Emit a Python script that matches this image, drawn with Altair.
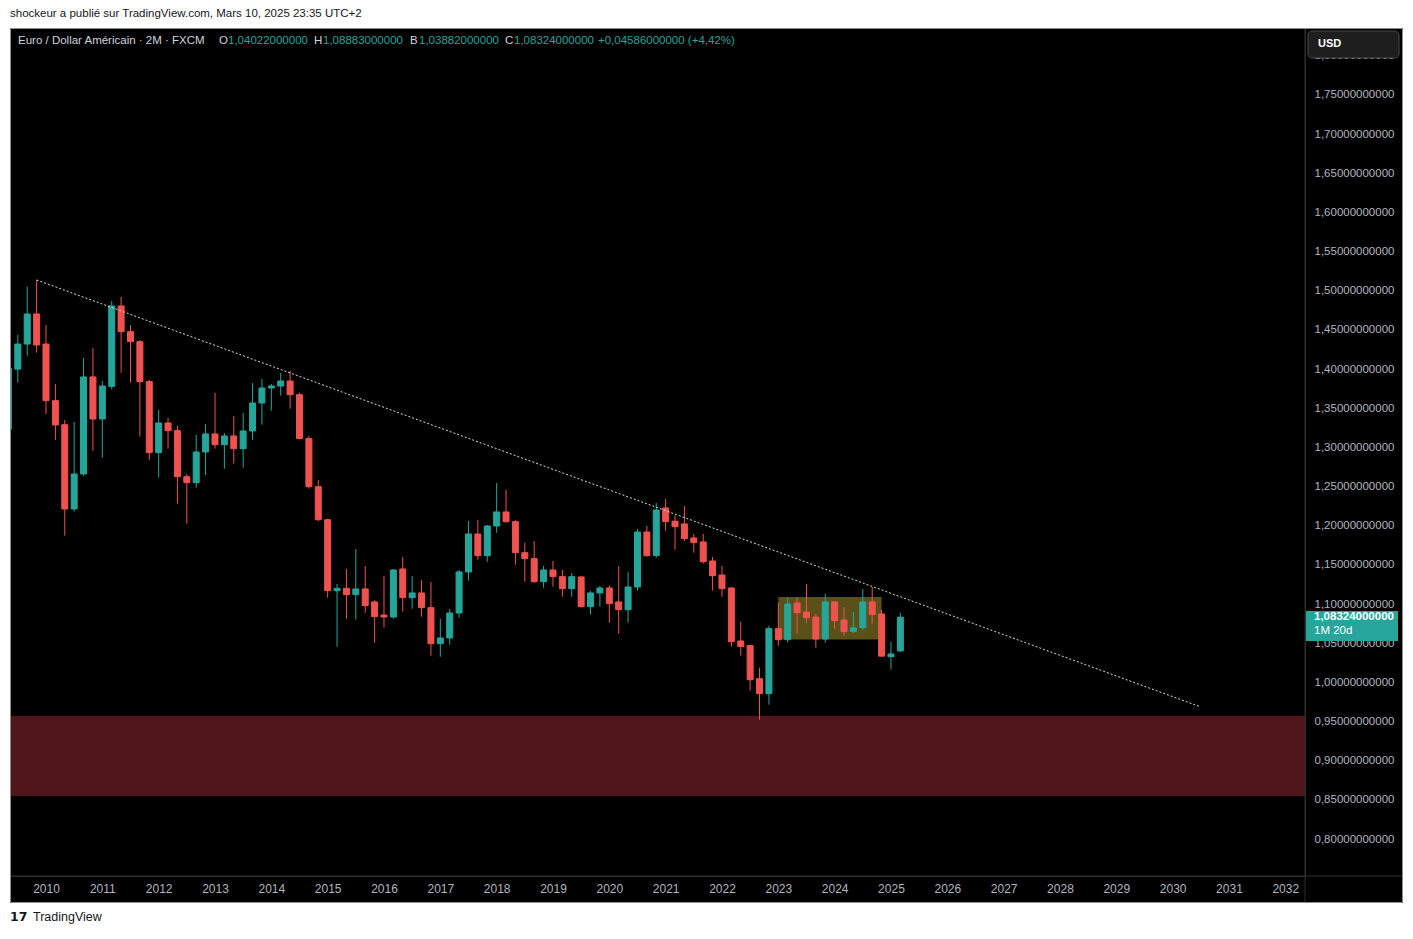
import altair as alt
import pandas as pd

# ---------------- data (2-month EUR/USD candles) ----------------
start_period = "2009-05-01"
opens = [1.3235, 1.4000, 1.4320, 1.4704, 1.4320, 1.3597, 1.3290, 1.2214, 1.2661, 1.3900,
         1.3363, 1.3780, 1.4806, 1.4478, 1.4350, 1.3840, 1.2933, 1.3312, 1.3214, 1.2626,
         1.2550, 1.2942, 1.3172, 1.3035, 1.3146, 1.2984, 1.3210, 1.3567, 1.3759, 1.3784,
         1.3848, 1.3673, 1.3112, 1.2499, 1.2077, 1.1170, 1.1201, 1.1120, 1.1193, 1.1027,
         1.0860, 1.0835, 1.1448, 1.1082, 1.1142, 1.0954, 1.0494, 1.0567, 1.0886, 1.1410,
         1.1895, 1.1618, 1.1997, 1.2176, 1.2052, 1.1656, 1.1580, 1.1286, 1.1435, 1.1350,
         1.1197, 1.1346, 1.0967, 1.1142, 1.1205, 1.1027, 1.0928, 1.1218, 1.1920, 1.1618,
         1.2227, 1.2058, 1.2023, 1.1844, 1.1793, 1.1550, 1.1371, 1.1205, 1.0529, 1.0470,
         1.0047, 0.9856, 1.0686, 1.0545, 1.1014, 1.0899, 1.0835, 1.0554, 1.1027, 1.0797,
         1.0648, 1.0699, 1.1027, 1.0873, 1.0328, 1.04022]
highs = [1.4100, 1.4436, 1.5052, 1.5138, 1.4563, 1.3810, 1.3350, 1.3325, 1.4142, 1.4270,
         1.3848, 1.4870, 1.4921, 1.4563, 1.4372, 1.3861, 1.3478, 1.3376, 1.3274, 1.2660,
         1.3159, 1.3300, 1.3695, 1.3184, 1.3401, 1.3440, 1.3823, 1.3874, 1.3810, 1.3950,
         1.3976, 1.3700, 1.3146, 1.2584, 1.2090, 1.1256, 1.1448, 1.1703, 1.1486, 1.1050,
         1.1359, 1.1448, 1.1601, 1.1359, 1.1307, 1.1282, 1.0813, 1.0937, 1.1435, 1.2061,
         1.2073, 1.2010, 1.2546, 1.2457, 1.2073, 1.1780, 1.1805, 1.1486, 1.1550, 1.1435,
         1.1397, 1.1359, 1.1167, 1.1231, 1.1240, 1.1486, 1.1410, 1.1959, 1.1997, 1.2290,
         1.2342, 1.2134, 1.2252, 1.1895, 1.1895, 1.1601, 1.1486, 1.1218, 1.0775, 1.0482,
         1.0188, 1.0724, 1.1018, 1.1078, 1.1078, 1.1256, 1.0873, 1.1129, 1.1040, 1.0963,
         1.0899, 1.1193, 1.1218, 1.0924, 1.0516, 1.08883]
lows = [1.3180, 1.3827, 1.4172, 1.4210, 1.3427, 1.3095, 1.1873, 1.2180, 1.2635, 1.2955,
        1.2870, 1.3742, 1.3954, 1.3827, 1.3137, 1.2840, 1.2614, 1.2984, 1.2282, 1.2026,
        1.2486, 1.2648, 1.2984, 1.2729, 1.2793, 1.2741, 1.3099, 1.3290, 1.3469, 1.3660,
        1.3495, 1.3105, 1.2474, 1.2060, 1.1082, 1.0457, 1.0813, 1.0802, 1.0890, 1.0507,
        1.0700, 1.0813, 1.0904, 1.0941, 1.0840, 1.0341, 1.0328, 1.0482, 1.0826, 1.1299,
        1.1567, 1.1541, 1.1911, 1.2040, 1.1504, 1.1286, 1.1270, 1.1209, 1.1222, 1.1094,
        1.1094, 1.0955, 1.0865, 1.0967, 1.0762, 1.0622, 1.0762, 1.1171, 1.1605, 1.1592,
        1.1937, 1.1694, 1.1805, 1.1656, 1.1516, 1.1171, 1.1094, 1.0457, 1.0341, 0.9894,
        0.9524, 0.9716, 1.0469, 1.0508, 1.0622, 1.0762, 1.0443, 1.0508, 1.0686, 1.0597,
        1.0635, 1.0665, 1.0750, 1.0330, 1.0162, 1.03882]
closes = [1.4010, 1.4320, 1.4704, 1.4308, 1.3597, 1.3287, 1.2214, 1.2661, 1.3900, 1.3363,
          1.3784, 1.4806, 1.4478, 1.4350, 1.3840, 1.2933, 1.3312, 1.3214, 1.2626, 1.2550,
          1.2942, 1.3172, 1.3035, 1.3146, 1.2984, 1.3210, 1.3567, 1.3759, 1.3784, 1.3848,
          1.3673, 1.3112, 1.2499, 1.2077, 1.1171, 1.1201, 1.1120, 1.1193, 1.0980, 1.0839,
          1.0835, 1.1435, 1.1082, 1.1142, 1.0954, 1.0494, 1.0567, 1.0886, 1.1410, 1.1895,
          1.1618, 1.1997, 1.2176, 1.2052, 1.1656, 1.1580, 1.1286, 1.1435, 1.1350, 1.1197,
          1.1350, 1.0967, 1.1142, 1.1205, 1.1005, 1.0928, 1.1218, 1.1920, 1.1618, 1.2201,
          1.2052, 1.1988, 1.1835, 1.1784, 1.1541, 1.1362, 1.1197, 1.0520, 1.0457, 1.0034,
          0.9856, 1.0686, 1.0545, 1.1001, 1.0890, 1.0826, 1.0554, 1.1027, 1.0788, 1.0648,
          1.0695, 1.1027, 1.0866, 1.0335, 1.0363, 1.08324]

# annotations
trend_t = [2009 + 10 / 12, 2030.486]
trend_p = [1.5138, 0.9690]
zone_top, zone_bottom = 0.9571, 0.8550
box_t = [2023.0, 2024 + 10 / 12]
box_p = [1.1090, 1.0546]
y_ticks = [0.80, 0.85, 0.90, 0.95, 1.00, 1.05, 1.10, 1.15, 1.20, 1.25, 1.30, 1.35,
           1.40, 1.45, 1.50, 1.55, 1.60, 1.65, 1.70, 1.75, 1.80]
x_ticks = list(range(2010, 2033))

# ---------------- styling ----------------
TEAL = "#26a69a"
RED = "#ef5350"
FONT = "Liberation Sans"
AXIS_COL = "#b2b5be"
X_DOM = [2009.361, 2032.35]
Y_DOM = [0.7528, 1.8355]
W, H = 1295, 848

dates = pd.date_range(start=start_period, periods=len(opens), freq="2MS")
df = pd.DataFrame({"date": dates, "o": opens, "h": highs, "l": lows, "c": closes})
df["t"] = df["date"].dt.year + (df["date"].dt.month - 1) / 12
df["dir"] = ["up" if c >= o else "down" for o, c in zip(df["o"], df["c"])]

xs = alt.Scale(domain=X_DOM, nice=False, zero=False, padding=0)
ys = alt.Scale(domain=Y_DOM, nice=False, zero=False, padding=0)
cscale = alt.Scale(domain=["up", "down"], range=[TEAL, RED])

x_axis = alt.Axis(values=x_ticks, format="d", labelColor=AXIS_COL, labelFont=FONT,
                  labelFontSize=12, labelPadding=7, ticks=False, domain=False, grid=False,
                  title=None, labelFlush=False, labelOverlap=False, zindex=0)
y_axis = alt.Axis(values=y_ticks, orient="right",
                  labelExpr="replace(format(datum.value, '.11f'), '.', ',')",
                  labelColor=AXIS_COL, labelFont=FONT, labelFontSize=11.5, labelPadding=9,
                  labelAlign="left", labelBaseline="middle", ticks=False, domain=False,
                  grid=False, title=None, labelOverlap=False, labelFlush=False, zindex=0)

dummy = pd.DataFrame({"k": [0]})


def box(x1, x2, y1, y2, fill, stroke=None, **kw):
    m = dict(fill=fill)
    if stroke:
        m["stroke"] = stroke
        m["strokeWidth"] = 1
    m.update(kw)
    return alt.Chart(dummy).mark_rect(**m).encode(
        x=alt.value(x1), x2=alt.value(x2), y=alt.value(y1), y2=alt.value(y2))


def txt(s, x, y, color, size=11.5, weight="normal", align="left", font=FONT):
    return alt.Chart(dummy).mark_text(
        text=s, align=align, baseline="middle", font=font, fontSize=size,
        fontWeight=weight, color=color).encode(x=alt.value(x), y=alt.value(y))


# white page margins around the black chart frame
white_top = box(-2, 1395, -20, 0, "white")
white_left = box(-2, 0, -20, 910, "white")
white_bottom = box(-2, 1395, 875, 910, "white")

# red support zone
zone_df = pd.DataFrame({"top": [zone_top], "bottom": [zone_bottom]})
zone = alt.Chart(zone_df).mark_rect(fill="#51161b").encode(
    x=alt.value(0), x2=alt.value(W),
    y=alt.Y("top:Q", scale=ys, axis=y_axis), y2="bottom:Q")

# olive range box
box_df = pd.DataFrame({"t1": [box_t[0]], "t2": [box_t[1]], "p1": [box_p[0]], "p2": [box_p[1]]})
olive = alt.Chart(box_df).mark_rect(fill="#5a5118").encode(
    x=alt.X("t1:Q", scale=xs, axis=x_axis), x2="t2:Q",
    y=alt.Y("p1:Q", scale=ys, axis=y_axis), y2="p2:Q")

wicks = alt.Chart(df).mark_rule(strokeWidth=1, clip=True).encode(
    x=alt.X("t:Q", scale=xs, axis=x_axis),
    y=alt.Y("l:Q", scale=ys, axis=y_axis), y2="h:Q",
    color=alt.Color("dir:N", scale=cscale, legend=None))

bodies = alt.Chart(df).mark_bar(size=6, strokeWidth=1, clip=True).encode(
    x=alt.X("t:Q", scale=xs, axis=x_axis),
    y=alt.Y("o:Q", scale=ys, axis=y_axis), y2="c:Q",
    fill=alt.Fill("dir:N", scale=cscale, legend=None),
    stroke=alt.Stroke("dir:N", scale=cscale, legend=None))

trend_df = pd.DataFrame({"t": trend_t, "p": trend_p})
trend = alt.Chart(trend_df).mark_line(color="#dcdcdc", strokeWidth=1, strokeDash=[2, 2],
                                      clip=True).encode(
    x=alt.X("t:Q", scale=xs, axis=x_axis), y=alt.Y("p:Q", scale=ys, axis=y_axis))

# separators and frame
sep_v = alt.Chart(dummy).mark_rule(color="#2e2e2e").encode(
    x=alt.value(W), y=alt.value(0), y2=alt.value(875))
sep_h = alt.Chart(dummy).mark_rule(color="#2e2e2e").encode(
    x=alt.value(0), x2=alt.value(1393), y=alt.value(H))
frame = box(0.5, 1392.5, 0.5, 874.5, "black", stroke="#8c8c8c", fillOpacity=0)

# currency box
usd_box = box(1298, 1389, 3, 30, "#1e1e1e", stroke="#4a4a4a", cornerRadius=4)
usd_txt = txt("USD", 1308, 16, "#ffffff", size=11, weight="bold")

# last price label
last_close = closes[-1]
lab_df = pd.DataFrame({"c": [last_close], "top": [last_close + 0.0079],
                       "bot": [last_close - 0.0304]})
lab_box = alt.Chart(lab_df).mark_rect(fill=TEAL).encode(
    x=alt.value(1296), x2=alt.value(1388),
    y=alt.Y("top:Q", scale=ys, axis=y_axis), y2="bot:Q")
lab_t1 = alt.Chart(lab_df).mark_text(text="1,08324000000", align="left", baseline="middle",
                                     font=FONT, fontSize=11.5, fontWeight="bold",
                                     color="white").encode(
    x=alt.value(1304), y=alt.Y("c:Q", scale=ys, axis=y_axis))
lab_t2 = alt.Chart(lab_df).mark_text(text="1M 20d", align="left", baseline="middle",
                                     font=FONT, fontSize=11.5, color="white", dy=14).encode(
    x=alt.value(1304), y=alt.Y("c:Q", scale=ys, axis=y_axis))

# texts
hdr = [
    txt("shockeur a publié sur TradingView.com, Mars 10, 2025 23:35 UTC+2", 0, -14, "#131722"),
    txt("Euro / Dollar Américain · 2M · FXCM", 8, 13, "#d1d4dc"),
    txt("O", 209, 13, "#d1d4dc"), txt("1,04022000000", 218, 13, TEAL),
    txt("H", 304, 13, "#d1d4dc"), txt("1,08883000000", 313, 13, TEAL),
    txt("B", 400, 13, "#d1d4dc"), txt("1,03882000000", 409, 13, TEAL),
    txt("C", 495, 13, "#d1d4dc"), txt("1,08324000000", 504, 13, TEAL),
    txt("+0,04586000000 (+4,42%)", 588, 13, TEAL),
    txt("17", 0, 889, "#131722", size=12.5, weight="bold", font="DejaVu Sans"),
    txt("TradingView", 23, 889, "#131722", size=12.5),
]

chart = alt.layer(
    white_top, white_left, white_bottom, zone, olive, wicks, bodies, trend,
    sep_v, sep_h, frame, usd_box, usd_txt, lab_box, lab_t1, lab_t2, *hdr
).properties(
    width=W, height=H,
    padding={"left": 2, "top": 20, "right": 98, "bottom": 50},
    autosize=alt.AutoSizeParams(type="none"),
    background="black",
).configure_view(stroke="#2e2e2e", fill="black")

chart.save("out.html", embed_options={"renderer": "svg", "actions": False})
